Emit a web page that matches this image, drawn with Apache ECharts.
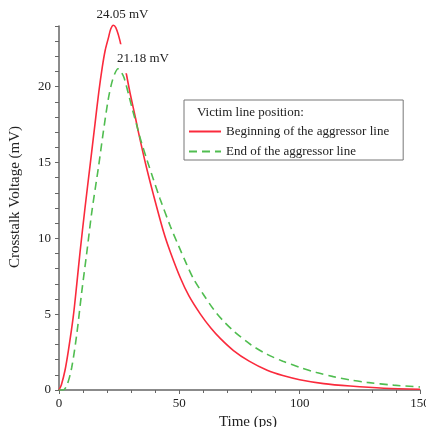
<!DOCTYPE html>
<html>
<head>
<meta charset="utf-8">
<script src="https://cdn.jsdelivr.net/npm/echarts@6/dist/echarts.min.js"></script>
<style>
  html, body { margin: 0; padding: 0; background: #fff; }
  #chart { width: 426px; height: 427px; }
</style>
</head>
<body>
<div id="chart"></div>
<script>
// 串扰电压曲线，数值读自原图
const seriesNames = ['Beginning of the aggressor line', 'End of the aggressor line']

// 受害线位于侵略线起点 [time ps, crosstalk mV]
const beginPoints = [
  [0, 0], [1, 0.35], [2.5, 1.3], [3.9, 2.6], [5.9, 4.8], [7.4, 7.0], [8.75, 9.1],
  [10.8, 12.0], [12.9, 14.8], [15, 17.6], [16.5, 19.6], [18, 21.3], [19.2, 22.4],
  [20.5, 23.2], [21.5, 23.8], [22.6, 24.05], [23.6, 23.9], [24.7, 23.4], [25.8, 22.7],
  [27.8, 21.0], [29.5, 19.6], [31.7, 18.0], [33, 17.0], [36, 14.9], [39.2, 12.9],
  [43.5, 10.4], [46.25, 9.1], [50.4, 7.4], [54, 6.2], [58.75, 5.0], [63, 4.1],
  [67, 3.4], [72.5, 2.6], [79, 1.9], [86.5, 1.3], [93, 0.95], [100, 0.68],
  [110, 0.42], [121, 0.26], [135, 0.12], [150, 0.05]
]

// 受害线位于侵略线末端
const endPoints = [
  [0, 0], [1.8, 0], [3.5, 0.4], [5.3, 1.5], [7.4, 3.7], [9.4, 6.4], [11.5, 9.0],
  [13.6, 11.7], [16.4, 14.7], [18.4, 17.0], [20.5, 19.2], [22, 20.3], [23.3, 20.9],
  [24.5, 21.18], [25.7, 21.0], [27, 20.6], [28.9, 19.5], [30.5, 18.5], [32.4, 17.4],
  [33.75, 16.6], [36.5, 15.2], [39.2, 13.9], [42, 12.6], [46.25, 10.8], [49.7, 9.5],
  [53, 8.3], [56, 7.3], [60, 6.3], [64.3, 5.3], [68, 4.6], [72.5, 3.9], [79.6, 3.0],
  [86.5, 2.35], [93, 1.9], [100, 1.5], [107, 1.15], [114, 0.88], [121, 0.66],
  [128, 0.5], [139, 0.32], [150, 0.2]
]

// 峰值标注
const beginPeak = [22.6, 24.05]
const endPeak = [24.5, 21.18]

const yMax = 24
const font = 'Liberation Serif'
const textColor = '#222'
const axisColor = '#666'
const redColor = '#fa2a3c'
const greenColor = '#50bd50'

const chart = echarts.init(document.getElementById('chart'))

const option = {
  backgroundColor: '#fff',
  animation: false,
  textStyle: { fontFamily: font, color: textColor },
  grid: { left: 59, right: 6, top: 26, bottom: 37, outerBoundsMode: 'none', containLabel: false },
  graphic: [{
    type: 'text',
    left: 197,
    top: 106,
    z: 100,
    style: {
      text: 'Victim line position:',
      font: '13px "Liberation Serif"',
      fill: textColor
    }
  }],
  legend: {
    orient: 'vertical',
    left: 184,
    top: 100,
    padding: [25, 14, 2, 4],
    itemWidth: 32,
    itemHeight: 14,
    itemGap: 7,
    backgroundColor: '#fff',
    borderColor: '#777',
    borderWidth: 1,
    itemStyle: { opacity: 0 },
    textStyle: { fontFamily: font, fontSize: 13, color: textColor },
    data: seriesNames
  },
  xAxis: {
    type: 'value',
    min: 0,
    max: 150,
    interval: 50,
    name: 'Time (ps)',
    nameLocation: 'middle',
    nameGap: 23,
    nameTextStyle: { fontFamily: font, fontSize: 15, color: textColor, padding: [0, 0, 0, 17] },
    axisLine: { show: true, lineStyle: { color: axisColor, width: 1.5 } },
    axisTick: { show: true, length: 4, lineStyle: { color: axisColor } },
    minorTick: { show: true, splitNumber: 5, length: 3, lineStyle: { color: axisColor } },
    axisLabel: { fontFamily: font, fontSize: 13, color: textColor, margin: 7 },
    splitLine: { show: false }
  },
  yAxis: {
    type: 'value',
    min: 0,
    max: yMax,
    interval: 1,
    name: 'Crosstalk Voltage (mV)',
    nameLocation: 'middle',
    nameGap: 36,
    nameTextStyle: { fontFamily: font, fontSize: 15, color: textColor, padding: [0, 0, 0, 22] },
    axisLine: { show: true, lineStyle: { color: axisColor, width: 1.5 } },
    axisTick: { show: true, length: 4, lineStyle: { color: axisColor } },
    axisLabel: {
      fontFamily: font,
      fontSize: 13,
      color: textColor,
      margin: 8,
      formatter: v => (v % 5 === 0 ? String(v) : '')
    },
    splitLine: { show: false }
  },
  series: [{
    name: seriesNames[0],
    type: 'line',
    data: beginPoints,
    symbol: 'none',
    smooth: 0.3,
    clip: false,
    z: 2,
    lineStyle: { color: redColor, width: 1.6 },
    itemStyle: { color: redColor },
    markPoint: {
      symbol: 'circle',
      symbolSize: 0,
      z: 4,
      // 峰值略高于坐标轴上限，标注点放在轴顶，显示原值
      data: [{ coord: [beginPeak[0], Math.min(beginPeak[1], yMax)], value: beginPeak[1] }],
      label: {
        show: true,
        position: 'inside',
        offset: [9, -11],
        fontFamily: font,
        fontSize: 13,
        color: textColor,
        formatter: p => p.value.toFixed(2) + ' mV'
      }
    }
  }, {
    name: seriesNames[1],
    type: 'line',
    data: endPoints,
    symbol: 'none',
    smooth: 0.3,
    z: 3,
    lineStyle: { color: greenColor, width: 1.6, type: [8, 5] },
    itemStyle: { color: greenColor },
    markPoint: {
      symbol: 'circle',
      symbolSize: 0,
      z: 2.5,
      data: [{ coord: endPeak, value: endPeak[1] }],
      label: {
        show: true,
        position: 'inside',
        offset: [25, -10],
        fontFamily: font,
        fontSize: 13,
        color: textColor,
        backgroundColor: '#fff',
        padding: [5, 2, 11, 2],
        formatter: p => p.value.toFixed(2) + ' mV'
      }
    }
  }]
}

chart.setOption(option)
</script>
</body>
</html>
